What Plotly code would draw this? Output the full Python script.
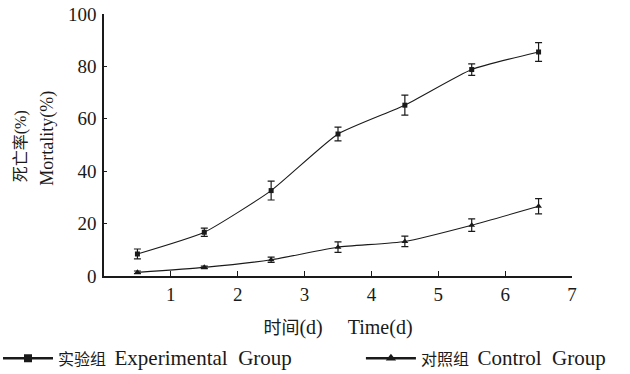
import plotly.graph_objects as go

days = [0.5, 1.5, 2.5, 3.5, 4.5, 5.5, 6.5]
exp_vals = [8.4, 16.7, 32.6, 54.2, 65.2, 78.8, 85.5]
exp_err = [1.9, 1.6, 3.6, 2.6, 3.8, 2.2, 3.6]
ctl_vals = [1.4, 3.3, 6.2, 11.0, 13.2, 19.4, 26.6]
ctl_err = [0.5, 0.5, 1.0, 2.0, 2.0, 2.4, 2.9]
xticks = [1, 2, 3, 4, 5, 6, 7]
yticks = [0, 20, 40, 60, 80, 100]

FONT = '"Liberation Serif", "Noto Sans CJK SC", serif'
LAT = "Liberation Serif"
INK = "#1a1a1a"

def mixed(cn, en, cn_size=16, en_size=21, gap="&nbsp;&nbsp;"):
    return (f'<span style="font-size:{cn_size}px">{cn}</span>{gap}'
            f'<span style="font-size:{en_size}px">{en}</span>')

fig = go.Figure()
fig.add_trace(go.Scatter(
    x=days, y=exp_vals, mode="lines+markers", showlegend=False,
    line=dict(color=INK, width=1.1, shape="spline", smoothing=0.5),
    marker=dict(symbol="square", size=5, color=INK),
    error_y=dict(type="data", array=exp_err, color=INK, thickness=1.2, width=3.5),
))
fig.add_trace(go.Scatter(
    x=days, y=ctl_vals, mode="lines+markers", showlegend=False,
    line=dict(color=INK, width=1.1, shape="spline", smoothing=0.5),
    marker=dict(symbol="triangle-up", size=6, color=INK),
    error_y=dict(type="data", array=ctl_err, color=INK, thickness=1.2, width=3.5),
))
# legend-only entries (thicker symbols as in the reference key)
fig.add_trace(go.Scatter(
    x=[None], y=[None], mode="lines+markers", legend="legend",
    name=mixed("实验组", "Experimental&nbsp;&nbsp;Group"),
    line=dict(color=INK, width=2.5), marker=dict(symbol="square", size=8, color=INK),
))
fig.add_trace(go.Scatter(
    x=[None], y=[None], mode="lines+markers", legend="legend2",
    name=mixed("对照组", "Control&nbsp;&nbsp;Group"),
    line=dict(color=INK, width=2.5), marker=dict(symbol="triangle-up", size=9, color=INK),
))

leg_common = dict(orientation="h", yanchor="middle", y=-0.316, xanchor="left",
                  font=dict(size=17, family=FONT, color=INK), itemwidth=50,
                  bgcolor="rgba(0,0,0,0)")

fig.update_layout(
    width=630, height=374,
    margin=dict(l=104, r=58, t=14, b=98, autoexpand=False),
    paper_bgcolor="white", plot_bgcolor="white",
    font=dict(family=FONT, color=INK),
    legend=dict(x=-0.2265, **leg_common),
    legend2=dict(x=0.549, **leg_common),
    xaxis=dict(range=[0, 7], tickvals=xticks, ticks="inside", ticklen=5,
               tickcolor=INK, tickwidth=1.2, showline=True, linecolor=INK,
               linewidth=1.5, showgrid=False, zeroline=False,
               ticklabelstandoff=0,
               tickfont=dict(size=19, family=LAT),
               title=dict(text=mixed("时间", "(d)&nbsp;&nbsp;&nbsp;&nbsp;&nbsp;Time(d)", 18, 20, ""),
                          font=dict(size=18, family=FONT), standoff=18)),
    yaxis=dict(range=[0, 100], tickvals=yticks, ticks="inside", ticklen=3,
               tickcolor=INK, tickwidth=1.2, showline=True, linecolor=INK,
               linewidth=1.5, showgrid=False, zeroline=False,
               ticklabelstandoff=2,
               tickfont=dict(size=19, family=LAT)),
)

fig.add_annotation(text="死亡率(%)", xref="paper", yref="paper", x=-0.177, y=0.496,
                   textangle=-90, showarrow=False, xanchor="center", yanchor="middle",
                   font=dict(size=16, family=FONT, color=INK))
fig.add_annotation(text="Mortality(%)", xref="paper", yref="paper", x=-0.12, y=0.527,
                   textangle=-90, showarrow=False, xanchor="center", yanchor="middle",
                   font=dict(size=18, family=LAT, color=INK))

fig.write_html("out.html", config={"displayModeBar": False},
               post_script="document.body.style.margin='0px';")
